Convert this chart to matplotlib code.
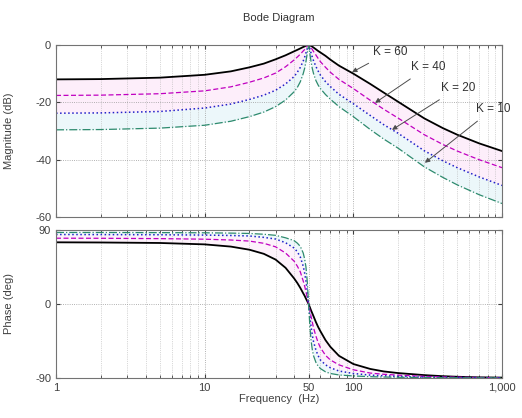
import matplotlib.pyplot as plt
import matplotlib.ticker as mticker

plt.rcParams['font.family'] = ['Liberation Sans', 'DejaVu Sans']
plt.rcParams['axes.unicode_minus'] = False

freq = [1, 2, 5, 10, 15, 20, 25, 30, 35, 40, 42, 44, 46, 47, 48, 49, 50, 51, 52, 53,
        54, 56, 58, 60, 65, 70, 80, 100, 130, 160, 200, 300, 400, 500, 700, 1000]

mag_k60 = [-12.0, -11.9, -11.4, -10.4, -9.2, -7.8, -6.5, -5.0, -3.6, -2.2, -1.7, -1.2, -0.7, -0.5, -0.25, -0.08, 0.0, -0.1, -0.35, -0.6,
           -0.9, -1.5, -2.1, -2.6, -3.8, -5.1, -7.2, -10.0, -13.6, -16.6, -19.8, -25.6, -29.0, -31.3, -34.3, -37.0]
mag_k40 = [-17.6, -17.5, -17.0, -16.0, -14.6, -13.0, -11.5, -9.8, -7.6, -5.2, -4.2, -3.2, -2.1, -1.6, -0.9, -0.35, 0.0, -0.4, -1.0, -1.6,
           -2.3, -3.5, -4.7, -5.8, -7.8, -9.5, -12.0, -15.2, -19.3, -22.4, -25.5, -31.3, -34.7, -37.0, -40.0, -42.8]
mag_k20 = [-23.8, -23.7, -23.2, -22.0, -20.6, -19.0, -17.5, -15.8, -13.6, -11.0, -9.5, -7.8, -5.6, -4.3, -2.8, -1.2, 0.0, -1.3, -2.9, -4.3,
           -5.5, -7.5, -9.1, -10.5, -12.8, -14.5, -17.2, -20.5, -24.6, -27.8, -30.8, -36.9, -40.4, -42.8, -46.0, -49.0]
mag_k10 = [-29.6, -29.5, -29.0, -28.0, -26.6, -25.0, -23.4, -21.5, -19.2, -16.3, -14.8, -12.8, -10.0, -8.2, -5.8, -2.8, 0.0, -3.0, -6.0, -8.3,
           -10.0, -12.4, -14.0, -15.2, -17.3, -18.9, -21.5, -25.0, -29.5, -32.8, -36.0, -42.5, -46.2, -48.8, -52.2, -55.3]

ph_k60 = [75, 74.8, 74.2, 72.5, 69.8, 66, 61, 54, 44, 31, 25.5, 19.5, 13, 10, 6.5, 3.3, 0, -4, -8, -11.5,
          -15, -22, -28, -33, -44, -52, -63, -73, -79, -82, -84, -86.5, -87.8, -88.5, -89.2, -89.5]
ph_k40 = [80, 79.9, 79.5, 78.8, 77.8, 76.5, 73.8, 69.5, 62, 52, 46, 39, 28, 22, 15, 7.5, 0, -8, -15.5, -22.5,
          -29, -39, -47, -53, -62.5, -68, -74, -80, -84, -85.5, -86.5, -88, -88.7, -89, -89.4, -89.7]
ph_k20 = [84.5, 84.4, 84.2, 83.8, 83.3, 82.7, 81, 79, 74.5, 68, 63.5, 57, 46, 38, 28, 15, 0, -15, -28, -38,
          -46, -56, -63, -68, -74, -77.5, -81.5, -84.5, -86.5, -87.3, -88, -89, -89.3, -89.5, -89.7, -89.8]
ph_k10 = [87, 87, 86.8, 86.6, 86.2, 85.8, 84.8, 83.5, 80.5, 77, 74, 70, 62, 55, 45, 27, 0, -27, -45, -56,
          -63, -71, -75.5, -78.5, -82.5, -84.5, -86.3, -87.5, -88.4, -88.8, -89.1, -89.5, -89.6, -89.7, -89.8, -89.9]

xticks = [1, 10, 50, 100, 1000]
xticklabels = ['1', '10', '50', '100', '1,000']

styles = [
    ('K = 60', 'black', '-', 1.3),
    ('K = 40', '#c000c0', (0, (4, 2)), 0.9),
    ('K = 20', '#2020c8', ':', 1.1),
    ('K = 10', '#2e8b6e', '-.', 0.9),
]

fig = plt.figure(figsize=(5.22, 4.18), dpi=100)
ax1 = fig.add_axes([0.1073, 0.4809, 0.8544, 0.4115])
ax2 = fig.add_axes([0.1073, 0.0957, 0.8544, 0.3541])


def style_axis(ax):
    ax.set_xscale('log')
    ax.set_xlim(1, 1000)
    ax.grid(True, which='major', ls=':', color='0.6', lw=0.6)
    ax.grid(True, which='minor', axis='x', ls=':', color='0.7', lw=0.5)
    ax.tick_params(which='both', direction='in', top=True, right=True,
                   labelsize=8, colors='0.25', length=3)
    ax.tick_params(which='minor', length=2)
    for s in ax.spines.values():
        s.set_color('0.45')
        s.set_linewidth(0.8)


mags = [mag_k60, mag_k40, mag_k20, mag_k10]
phs = [ph_k60, ph_k40, ph_k20, ph_k10]

ax1.fill_between(freq, mag_k60, mag_k20, color='#fdeefa', lw=0)
ax1.fill_between(freq, mag_k20, mag_k10, color='#ecf7fa', lw=0)
ax2.fill_between(freq, ph_k60, ph_k20, color='#fdf2fb', lw=0)
ax2.fill_between(freq, ph_k20, ph_k10, color='#eef8fb', lw=0)

for (name, c, ls, lw), m, p in zip(styles, mags, phs):
    ax1.plot(freq, m, color=c, ls=ls, lw=lw)
    ax2.plot(freq, p, color=c, ls=ls, lw=lw)

style_axis(ax1)
ax1.set_ylim(-60, 0)
ax1.set_yticks([0, -20, -40, -60])
ax1.xaxis.set_major_locator(mticker.FixedLocator(xticks))
ax1.set_xticklabels([])
ax1.set_ylabel('Magnitude (dB)', fontsize=8, color='0.25')
ax1.yaxis.set_label_coords(-0.095, 0.5)
ax1.set_title('Bode Diagram', fontsize=8, color='0.2', pad=17)

style_axis(ax2)
ax2.set_ylim(-90, 90)
ax2.set_yticks([90, 0, -90])
ax2.set_xticks(xticks)
ax2.set_xticklabels(xticklabels)
ax2.set_ylabel('Phase (deg)', fontsize=8, color='0.25')
ax2.yaxis.set_label_coords(-0.095, 0.5)
ax2.set_xlabel('Frequency  (Hz)', fontsize=8, color='0.25', labelpad=1)

# K labels with arrows pointing to the curves
labels = [('K = 60', (98, -9.5), (176, -2.4)),
          ('K = 40', (140, -20.2), (317, -7.7)),
          ('K = 20', (182, -29.6), (505, -15.0)),
          ('K = 10', (303, -41.1), (868, -22.3))]
for txt, xy, xytext in labels:
    ax1.annotate(txt, xy=xy, xytext=xytext, fontsize=8.5, color='0.2',
                 ha='center', va='center', annotation_clip=False,
                 arrowprops=dict(arrowstyle='-|>', color='0.3', lw=0.7,
                                 mutation_scale=7, shrinkA=4, shrinkB=0))

fig.savefig('out.png', dpi=100)
